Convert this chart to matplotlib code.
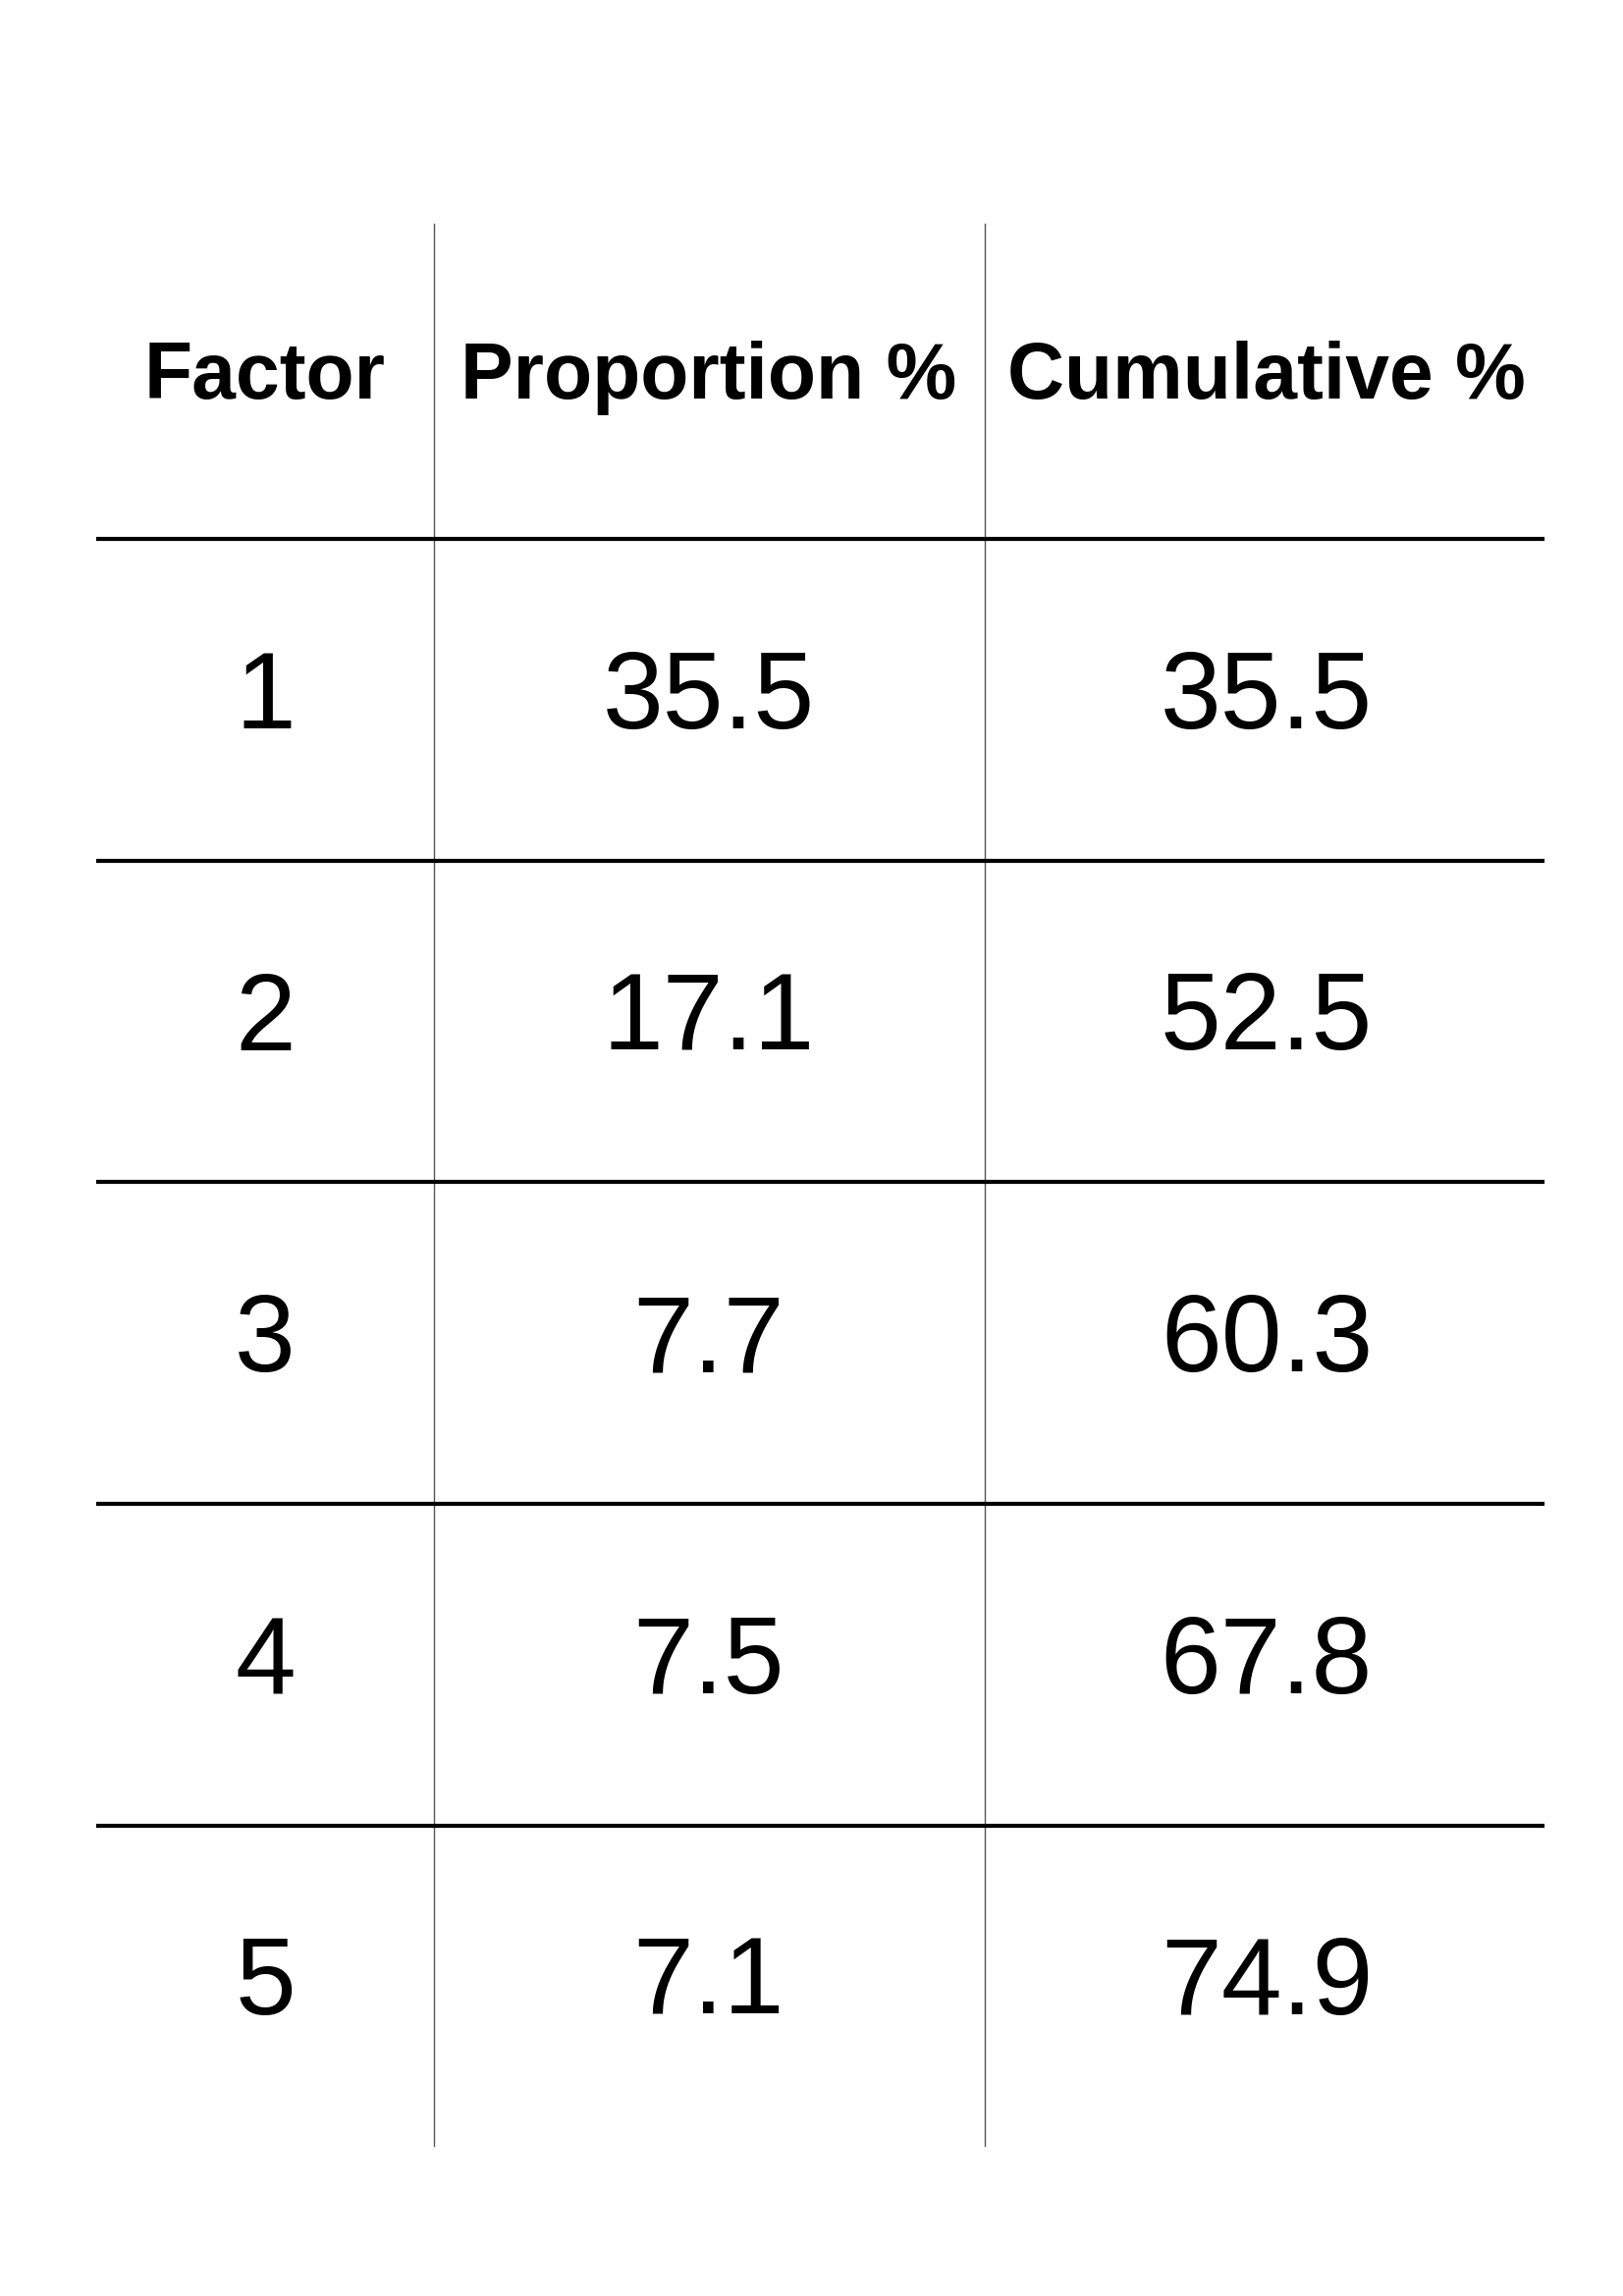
import matplotlib
matplotlib.use("Agg")
import matplotlib.pyplot as plt

headers = ["Factor", "Proportion %", "Cumulative %"]
factors = ["1", "2", "3", "4", "5"]
proportion = ["35.5", "17.1", "7.7", "7.5", "7.1"]
cumulative = ["35.5", "52.5", "60.3", "67.8", "74.9"]

W, H = 1653, 2339
fig = plt.figure(figsize=(W/100, H/100), dpi=100)
ax = fig.add_axes([0, 0, 1, 1])
ax.set_xlim(0, W); ax.set_ylim(H, 0); ax.axis("off")

xl, xr = 100, 1571
vx = [442, 1003]
top, bot = 228, 2186
hy = [549, 877, 1204, 1532, 1860]
for x in vx:
    ax.plot([x, x], [top, bot], color="#555555", lw=1)
for y in hy:
    ax.plot([xl, xr], [y, y], color="black", lw=3)

cx = [(xl + vx[0]) / 2 + 0, (vx[0] + vx[1]) / 2, (vx[1] + xr) / 2 - 20]
cx = [270, 722, 1290]
fam = ["Liberation Sans Narrow", "Liberation Sans", "DejaVu Sans"]
for x, t in zip(cx, headers):
    ax.text(x, 385, t, ha="center", va="center", fontsize=58, fontweight="bold",
            family=fam, fontstretch="condensed")
rows = [top] + hy + [bot]
for i in range(5):
    yc = (hy[i] + (hy[i+1] if i < 4 else bot)) / 2
    for x, t in zip(cx, [factors[i], proportion[i], cumulative[i]]):
        ax.text(x, yc, t, ha="center", va="center", fontsize=80, family=fam)
fig.savefig("out.png", dpi=100)
